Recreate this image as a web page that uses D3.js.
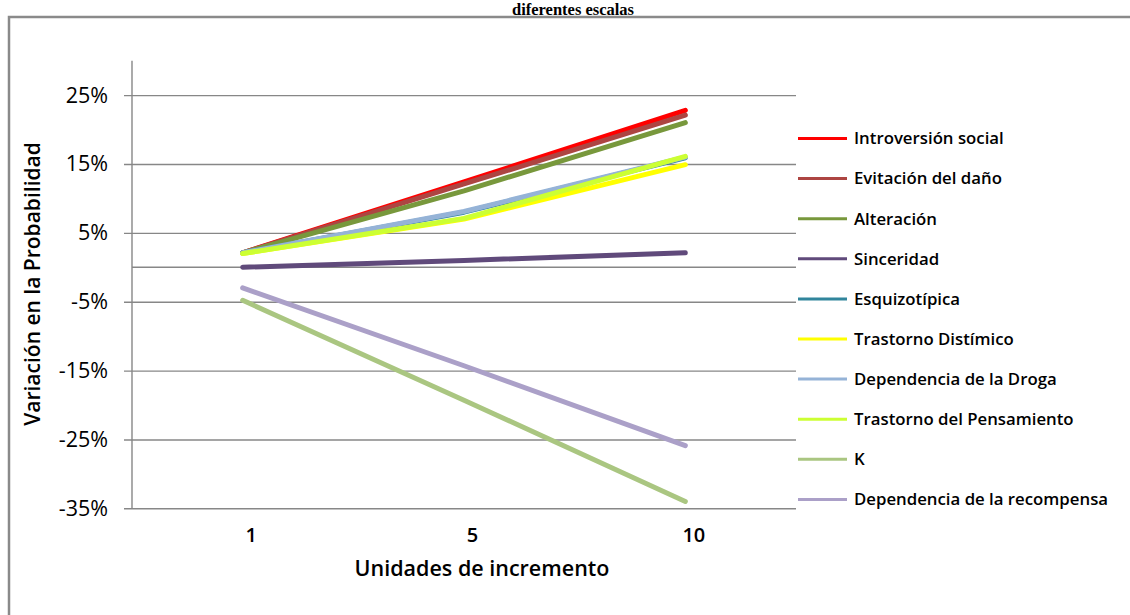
<!DOCTYPE html>
<html>
<head>
<meta charset="utf-8">
<script src="https://cdn.jsdelivr.net/npm/d3@7"></script>
<style>
  html, body { margin: 0; padding: 0; background: #fff; }
  svg { display: block; }
</style>
</head>
<body>
<svg id="chart" width="1130" height="615"></svg>
<script>
// ---- data ----
const categories = ["1", "5", "10"];
const seriesNames = [
  "Introversión social",
  "Evitación del daño",
  "Alteración",
  "Sinceridad",
  "Esquizotípica",
  "Trastorno Distímico",
  "Dependencia de la Droga",
  "Trastorno del Pensamiento",
  "K",
  "Dependencia de la recompensa"
];
const introversionSocial   = [0.021, 0.124, 0.228];
const evitacionDano        = [0.021, 0.121, 0.221];
const alteracion           = [0.021, 0.111, 0.210];
const sinceridad           = [0.000, 0.010, 0.021];
const esquizotipica        = [0.021, 0.080, 0.159];
const trastornoDistimico   = [0.020, 0.070, 0.149];
const dependenciaDroga     = [0.021, 0.081, 0.160];
const trastornoPensamiento = [0.020, 0.071, 0.161];
const kValues              = [-0.048, -0.193, -0.340];
const dependenciaRecomp    = [-0.030, -0.143, -0.259];
const seriesValues = [introversionSocial, evitacionDano, alteracion, sinceridad, esquizotipica,
  trastornoDistimico, dependenciaDroga, trastornoPensamiento, kValues, dependenciaRecomp];
const seriesColors = ["#FF0000", "#AD4542", "#78983C", "#604A7B", "#31859C",
  "#FFFF00", "#95B3D7", "#CCFF33", "#AAC681", "#ABA0C8"];
const yTicks = [-0.35, -0.25, -0.15, -0.05, 0.05, 0.15, 0.25];
const titleText = "diferentes escalas";
const yTitle = "Variación en la Probabilidad";
const xTitle = "Unidades de incremento";

// ---- layout ----
const svg = d3.select("#chart");
const plot = { left: 132, right: 796, top: 60.7, bottom: 508.3 };
const font = "'Open Sans', 'Noto Sans', sans-serif";

// outer frame
svg.append("rect")
  .attr("x", 9).attr("y", 17).attr("width", 1300).attr("height", 800)
  .attr("fill", "#fff").attr("stroke", "#8a8a8a").attr("stroke-width", 2.5);

// title
svg.append("text")
  .attr("x", 573).attr("y", 15)
  .attr("text-anchor", "middle")
  .attr("font-family", "'Liberation Serif', 'Times New Roman', serif")
  .attr("font-weight", "bold")
  .attr("font-size", 16.5)
  .attr("fill", "#000")
  .text(titleText);

const x = d3.scalePoint().domain(categories).range([plot.left, plot.right]).padding(0.5);
const y = d3.scaleLinear().domain([-0.35, 0.30]).range([plot.bottom, plot.top]);

// y axis with gridlines
const pct = d3.format(".0%");
const yAxis = d3.axisLeft(y)
  .tickValues(yTicks)
  .tickFormat(d => pct(d).replace("\u2212", "-"))
  .tickSize(-(plot.right - plot.left))
  .tickPadding(24);
const gy = svg.append("g").attr("transform", `translate(${plot.left},0)`).call(yAxis);
gy.select(".domain").remove();
gy.selectAll(".tick line")
  .attr("x1", -8)
  .attr("stroke", "#878787").attr("stroke-width", 1.4);
gy.selectAll(".tick text")
  .attr("font-family", font).attr("font-size", 21.5).attr("fill", "#000");

// vertical axis line
svg.append("line")
  .attr("x1", plot.left).attr("x2", plot.left)
  .attr("y1", plot.top).attr("y2", plot.bottom)
  .attr("stroke", "#878787").attr("stroke-width", 1.4);

// category axis crossing at 0
svg.append("line")
  .attr("x1", plot.left).attr("x2", plot.right)
  .attr("y1", y(0)).attr("y2", y(0))
  .attr("stroke", "#878787").attr("stroke-width", 1.4);

// category labels at bottom
const xAxis = d3.axisBottom(x).tickSize(0).tickPadding(20);
const gx = svg.append("g").attr("transform", `translate(0,${plot.bottom})`).call(xAxis);
gx.select(".domain").remove();
gx.selectAll(".tick text")
  .attr("dx", 8)
  .attr("font-family", font).attr("font-weight", 600).attr("font-size", 20).attr("fill", "#000");

// axis titles
svg.append("text")
  .attr("x", 482).attr("y", 576)
  .attr("text-anchor", "middle")
  .attr("font-family", font).attr("font-weight", 600).attr("font-size", 21.5)
  .attr("fill", "#000")
  .text(xTitle);

svg.append("text")
  .attr("transform", "translate(40,284) rotate(-90)")
  .attr("text-anchor", "middle")
  .attr("font-family", font).attr("font-weight", 600).attr("font-size", 21)
  .attr("fill", "#000")
  .text(yTitle);

// lines
const line = d3.line().x((d, i) => x(categories[i])).y(d => y(d));
svg.append("g").selectAll("path")
  .data(seriesValues)
  .join("path")
  .attr("d", d => line(d))
  .attr("fill", "none")
  .attr("stroke", (d, i) => seriesColors[i])
  .attr("stroke-width", 5)
  .attr("stroke-linecap", "round")
  .attr("stroke-linejoin", "round");

// legend
const legend = svg.append("g").attr("transform", "translate(798,138.5)");
const items = legend.selectAll("g").data(seriesNames).join("g")
  .attr("transform", (d, i) => `translate(0,${i * 40.1})`);
items.append("line")
  .attr("x1", 0).attr("x2", 49).attr("y1", 0).attr("y2", 0)
  .attr("stroke", (d, i) => seriesColors[i]).attr("stroke-width", 3);
items.append("text")
  .attr("x", 56).attr("y", 0).attr("dy", "0.35em")
  .attr("font-family", font).attr("font-weight", 600).attr("font-size", 16.8)
  .attr("fill", "#000")
  .text(d => d);
</script>
</body>
</html>
